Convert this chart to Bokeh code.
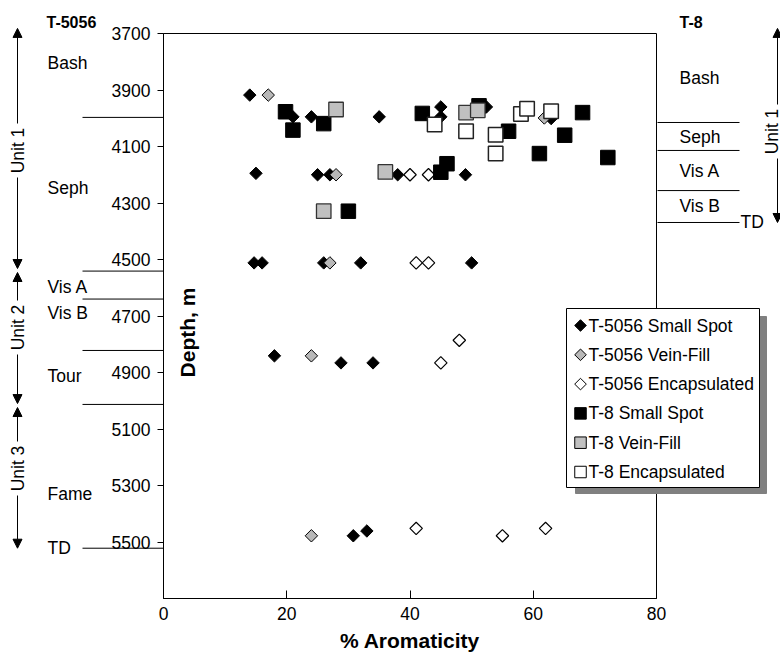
import numpy as np
from bokeh.plotting import figure
from bokeh.models import (Range1d, Label, Arrow, NormalHead, BoxAnnotation,
                          FixedTicker, LinearAxis)
from bokeh.embed import file_html
from bokeh.resources import INLINE

# ---- measurements: % aromaticity vs depth (m) ----
t5056_small_x = [14, 21, 24, 35, 45, 45, 52.4, 62.9,
                 15, 25, 27, 38, 49,
                 14.7, 16, 26, 32, 50,
                 18, 28.8, 34,
                 30.8, 33]
t5056_small_depth = [3918, 3995, 3995, 3995, 3960, 3995, 3960, 4001,
                     4195, 4200, 4200, 4200, 4200,
                     4512, 4512, 4512, 4512, 4512,
                     4841, 4866, 4866,
                     5478, 5461]

t5056_vein_x = [17, 28, 27, 24, 24, 61.8]
t5056_vein_depth = [3918, 4200, 4512, 4841, 5478, 3999]

t5056_encap_x = [40, 43, 41, 43, 48, 45, 41, 55, 62]
t5056_encap_depth = [4200, 4200, 4512, 4512, 4786, 4866, 5452, 5478, 5452]

t8_small_x = [19.8, 21, 26, 42, 51.2, 56, 68, 65.1, 61, 72.1, 46, 45, 30]
t8_small_depth = [3977, 4042, 4019, 3983, 3956, 4046, 3980, 4060, 4125, 4139,
                  4161, 4191, 4329]

t8_vein_x = [28, 36, 26, 49.1, 51]
t8_vein_depth = [3969, 4190, 4329, 3980, 3972]

t8_encap_x = [44, 49.1, 53.9, 53.9, 58, 59, 62.9]
t8_encap_depth = [4022, 4046, 4058, 4125, 3985, 3966, 3975]

series_names = ["T-5056 Small Spot", "T-5056 Vein-Fill", "T-5056 Encapsulated",
                "T-8 Small Spot", "T-8 Vein-Fill", "T-8 Encapsulated"]

x_ticks = [0, 20, 40, 60, 80]
depth_ticks = [3700, 3900, 4100, 4300, 4500, 4700, 4900, 5100, 5300, 5500]

# formation tops / labels for each well (depth, m)
t5056_bounds = [3997, 4541, 4640, 4822, 5013, 5522]
t5056_names = ["Bash", "Seph", "Vis A", "Vis B", "Tour", "Fame", "TD"]
t5056_name_depth = [3803, 4248, 4599, 4691, 4911, 5329, 5522]
t5056_units = ["Unit 1", "Unit 2", "Unit 3"]
t5056_unit_span = [(3682, 4532), (4546, 5010), (5024, 5522)]

t8_bounds = [4015, 4114, 4256, 4369]
t8_names = ["Bash", "Seph", "Vis A", "Vis B", "TD"]
t8_name_depth = [3859, 4065, 4185, 4309, 4369]
t8_unit_span = (3682, 4369)

# ---- canvas geometry (plot box inside a full-canvas frame) ----
W, H = 780, 654
BOX_L, BOX_R, BOX_T, BOX_B = 163, 656, 33, 598
X_LO, X_HI = 0, 80
D_TOP, D_BOT = 3700, 5700
PX_X = (BOX_R - BOX_L) / (X_HI - X_LO)
PX_D = (BOX_B - BOX_T) / (D_BOT - D_TOP)
FONT = "Liberation Sans"
TXT = "17.5px"


def ax(px):
    """canvas column -> x value"""
    return X_LO + (px - BOX_L) / PX_X


def ay(py):
    """canvas row -> depth"""
    return D_TOP + (py - BOX_T) / PX_D


p = figure(width=W, height=H,
           x_range=Range1d(ax(0), ax(W)), y_range=Range1d(ay(H), ay(0)),
           x_axis_location=None, y_axis_location=None,
           output_backend="svg", toolbar_location=None,
           min_border=0, min_border_left=0, min_border_right=0,
           min_border_top=0, min_border_bottom=0,
           background_fill_color="white", border_fill_color="white")
p.outline_line_color = None
p.xgrid.visible = False
p.ygrid.visible = False

# plot box
p.add_layout(BoxAnnotation(left=X_LO, right=X_HI, top=D_TOP, bottom=D_BOT,
                           fill_alpha=0, line_color="black", line_width=1,
                           line_alpha=1, level="underlay"))

# % aromaticity axis, ticks pointing into the box
xaxis = LinearAxis(fixed_location=D_BOT, bounds=(X_LO, X_HI),
                   ticker=FixedTicker(ticks=x_ticks))
xaxis.major_tick_in = 8
xaxis.major_tick_out = 0
xaxis.minor_tick_line_color = None
xaxis.major_label_standoff = 8
xaxis.major_label_text_font = FONT
xaxis.major_label_text_font_size = TXT
xaxis.major_label_text_color = "black"
p.add_layout(xaxis, "below")

# depth axis, ticks outside
yaxis = LinearAxis(fixed_location=X_LO, bounds=(D_TOP, D_BOT),
                   ticker=FixedTicker(ticks=depth_ticks))
yaxis.major_tick_in = 0
yaxis.major_tick_out = 6
yaxis.minor_tick_line_color = None
yaxis.major_label_standoff = 7
yaxis.major_label_text_font = FONT
yaxis.major_label_text_font_size = TXT
yaxis.major_label_text_color = "black"
p.add_layout(yaxis, "left")
for a in (xaxis, yaxis):
    a.axis_line_color = "black"
    a.major_tick_line_color = "black"

# ---- data series ----
DIAMOND = 8.8
SQUARE = 14.5
rot = np.pi / 4
p.scatter(t5056_small_x, t5056_small_depth, marker="square", angle=rot,
          size=DIAMOND, fill_color="black", line_color="black", line_width=1)
p.scatter(t5056_vein_x, t5056_vein_depth, marker="square", angle=rot,
          size=DIAMOND, fill_color="#b8b8b8", line_color="black", line_width=1)
p.scatter(t5056_encap_x, t5056_encap_depth, marker="square", angle=rot,
          size=DIAMOND, fill_color="white", line_color="black", line_width=1.2)
p.scatter(t8_small_x, t8_small_depth, marker="square",
          size=SQUARE, fill_color="black", line_color="black", line_width=1)
p.scatter(t8_vein_x, t8_vein_depth, marker="square",
          size=SQUARE, fill_color="#c0c0c0", line_color="#333333", line_width=1.3)
p.scatter(t8_encap_x, t8_encap_depth, marker="square",
          size=SQUARE, fill_color="white", line_color="#222222", line_width=1.5)


def text(px, depth, s, size=TXT, bold=False, align="left", angle=0.0):
    p.add_layout(Label(x=ax(px), y=depth, text=s, angle=angle,
                       text_align=align, text_baseline="middle",
                       text_font=FONT, text_font_size=size,
                       text_font_style="bold" if bold else "normal",
                       text_color="black"))


# axis titles
text((BOX_L + BOX_R) / 2, ay(640), "% Aromaticity", size="21px", bold=True,
     align="center")
text(187, ay(332), "Depth, m", size="21px", bold=True, align="center",
     angle=np.pi / 2)


def unit_arrow(px, top_depth, bot_depth, mid_px, name, text_px=None):
    gap = 27
    head = dict(size=9, fill_color="black", line_color="black", line_width=1)
    p.add_layout(Arrow(x_start=ax(px), x_end=ax(px), y_start=ay(mid_px - gap),
                       y_end=top_depth, start=None, end=NormalHead(**head),
                       line_color="black", line_width=1))
    p.add_layout(Arrow(x_start=ax(px), x_end=ax(px), y_start=ay(mid_px + gap),
                       y_end=bot_depth, start=None, end=NormalHead(**head),
                       line_color="black", line_width=1))
    text(px if text_px is None else text_px, ay(mid_px), name, align="center",
         angle=np.pi / 2)


# ---- T-5056 column (left) ----
text(46, ay(22), "T-5056", size="16px", bold=True)
p.segment(x0=[ax(82)] * len(t5056_bounds), y0=t5056_bounds,
          x1=[X_LO] * len(t5056_bounds), y1=t5056_bounds,
          line_color="black", line_width=1)
for name, d in zip(t5056_names, t5056_name_depth):
    text(47, d, name)
for name, (d0, d1), m in zip(t5056_units, t5056_unit_span, [150, 327, 468]):
    unit_arrow(17, d0, d1, m, name)

# ---- T-8 column (right) ----
text(679, ay(22), "T-8", size="16px", bold=True)
p.segment(x0=[ax(BOX_R + 1)] * len(t8_bounds), y0=t8_bounds,
          x1=[ax(739)] * len(t8_bounds), y1=t8_bounds,
          line_color="black", line_width=1)
for name, d in zip(t8_names[:-1], t8_name_depth[:-1]):
    text(679, d, name)
text(740, t8_name_depth[-1], t8_names[-1])
unit_arrow(777, t8_unit_span[0], t8_unit_span[1], 131, "Unit 1", text_px=771)

# ---- legend with drop shadow ----
p.quad(left=[ax(575)], right=[ax(766)], top=[ay(316)], bottom=[ay(493)],
       fill_color="#808080", line_color="#808080", line_width=1)
p.quad(left=[ax(566)], right=[ax(759)], top=[ay(308)], bottom=[ay(487)],
       fill_color="white", line_color="black", line_width=1)

legend_marker = ["diamond", "diamond", "diamond", "square", "square", "square"]
legend_fill = ["black", "#b8b8b8", "white", "black", "#c0c0c0", "white"]
row0, step, swatch_px, text_px = 325, 29.3, 580, 588
for i, (name, mk, fill) in enumerate(zip(series_names, legend_marker, legend_fill)):
    cy = ay(row0 + i * step)
    if mk == "diamond":
        p.scatter([ax(swatch_px)], [cy], marker="square", angle=rot, size=8.2,
                  fill_color=fill, line_color="black", line_width=1)
    else:
        p.scatter([ax(swatch_px)], [cy], marker="square", size=11.5,
                  fill_color=fill, line_color="black", line_width=1)
    text(text_px, cy, name)

open("out.html", "w").write(file_html(p, INLINE))
